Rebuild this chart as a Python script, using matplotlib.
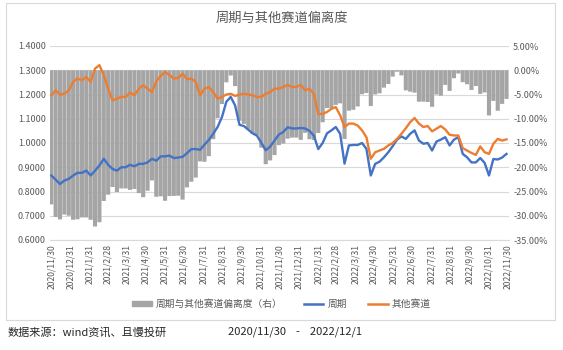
import matplotlib
matplotlib.use('Agg')
import matplotlib.pyplot as plt
from matplotlib.patches import Patch, Rectangle
from matplotlib.lines import Line2D
from matplotlib.ticker import FuncFormatter, MultipleLocator
import pandas as pd

plt.rcParams['font.family'] = ['Noto Sans CJK SC', 'DejaVu Sans']

# weekly readings, starting 2020/11/30
start_date = '2020-11-30'
zhouqi = [0.866, 0.849, 0.831, 0.845, 0.852, 0.866, 0.877, 0.877, 0.886, 0.866,
          0.886, 0.907, 0.935, 0.910, 0.893, 0.886, 0.900, 0.900, 0.910, 0.904,
          0.914, 0.914, 0.920, 0.935, 0.927, 0.945, 0.945, 0.948, 0.938, 0.940,
          0.943, 0.958, 0.975, 0.975, 0.972, 0.993, 1.013, 1.038, 1.066, 1.107,
          1.170, 1.190, 1.155, 1.075, 1.070, 1.055, 1.040, 1.030, 1.000, 0.970,
          0.985, 1.010, 1.035, 1.045, 1.065, 1.060, 1.060, 1.062, 1.060, 1.050,
          1.030, 0.975, 1.000, 1.040, 1.052, 1.066, 1.038, 0.915, 0.990, 0.992,
          0.992, 1.000, 0.976, 0.866, 0.914, 0.923, 0.941, 0.962, 0.987, 1.014,
          1.027, 1.017, 1.038, 1.052, 1.010, 0.997, 1.000, 0.969, 1.006, 1.014,
          1.024, 0.990, 1.014, 1.024, 0.955, 0.941, 0.920, 0.920, 0.938, 0.918,
          0.866, 0.934, 0.932, 0.940, 0.955]
other = [1.197, 1.217, 1.200, 1.203, 1.217, 1.252, 1.266, 1.259, 1.272, 1.252,
         1.307, 1.321, 1.280, 1.224, 1.176, 1.183, 1.190, 1.190, 1.208, 1.197,
         1.224, 1.238, 1.224, 1.210, 1.254, 1.277, 1.293, 1.280, 1.266, 1.268,
         1.286, 1.263, 1.266, 1.252, 1.197, 1.224, 1.231, 1.210, 1.183, 1.190,
         1.200, 1.203, 1.194, 1.200, 1.203, 1.200, 1.197, 1.190, 1.190, 1.203,
         1.210, 1.224, 1.224, 1.231, 1.240, 1.231, 1.231, 1.240, 1.217, 1.224,
         1.203, 1.120, 1.120, 1.128, 1.141, 1.148, 1.114, 1.066, 1.080, 1.080,
         1.072, 1.052, 1.024, 0.935, 0.962, 0.969, 0.976, 0.990, 1.000, 1.017,
         1.038, 1.061, 1.086, 1.103, 1.080, 1.066, 1.070, 1.048, 1.059, 1.070,
         1.056, 1.034, 1.031, 1.031, 0.979, 0.969, 0.959, 0.951, 0.986, 0.962,
         0.955, 0.997, 1.017, 1.010, 1.015]
# 偏离度 = 周期 / 其他赛道 - 1
deviation = [z / o - 1 for z, o in zip(zhouqi, other)]

dates = pd.date_range(start_date, periods=len(zhouqi), freq='7D')
tick_dates = pd.date_range('2020-11-30', '2022-11-30', freq=pd.offsets.MonthEnd())
tick_labels = [f'{d.year}/{d.month}/{d.day}' for d in tick_dates]

grey_txt = '#595959'
fig = plt.figure(figsize=(5.63, 3.5), dpi=100)
ax = fig.add_axes([50 / 563, 1 - 240 / 350, 459 / 563, 194 / 350])
ax_bar = ax.twinx()
ax.set_zorder(ax_bar.get_zorder() + 1)
ax.patch.set_visible(False)

ax_bar.bar(dates, deviation, width=6.6, color='#A5A5A5', lw=0, snap=False, zorder=2)
ax.plot(dates, zhouqi, color='#4472C4', lw=1.7)
ax.plot(dates, other, color='#ED7D31', lw=1.7)

ax.set_ylim(0.6, 1.4)
ax.yaxis.set_major_locator(MultipleLocator(0.1))
ax.yaxis.set_major_formatter(FuncFormatter(lambda v, p: f'{v:.4f}'))
ax_bar.set_ylim(-0.35, 0.05)
ax_bar.yaxis.set_major_locator(MultipleLocator(0.05))
ax_bar.yaxis.set_major_formatter(FuncFormatter(lambda v, p: f'{v * 100:.2f}%'))
ax_bar.yaxis.grid(True, color='#D9D9D9', lw=0.8)
ax_bar.set_axisbelow(True)

ax.set_xlim(pd.Timestamp('2020-11-28'), pd.Timestamp('2022-12-02'))
ax.set_xticks(tick_dates)
ax.set_xticklabels(tick_labels, rotation=90)

for a in (ax, ax_bar):
    for s in a.spines.values():
        s.set_visible(False)
    a.tick_params(length=0, labelsize=6.5, labelcolor=grey_txt, pad=3)
ax_bar.spines['bottom'].set_visible(True)
ax_bar.spines['bottom'].set_color('#D9D9D9')
ax.tick_params(axis='x', labelsize=6.2)

fig.text(0.5, 1 - 18 / 350, '周期与其他赛道偏离度', ha='center', va='center',
         fontsize=9.5, color=grey_txt)

handles = [Patch(color='#A5A5A5'),
           Line2D([], [], color='#4472C4', lw=1.8),
           Line2D([], [], color='#ED7D31', lw=1.8)]
labels = ['周期与其他赛道偏离度（右）', '周期', '其他赛道']
fig.legend(handles, labels, loc='center', bbox_to_anchor=(0.5, 1 - 304 / 350), ncol=3,
           frameon=False, fontsize=7, labelcolor=grey_txt, handlelength=2.0,
           handleheight=0.5, columnspacing=2.2, handletextpad=0.4)

fig.add_artist(Rectangle((6 / 563, 1 - 320 / 350), 549 / 563, 317 / 350,
                         transform=fig.transFigure, fill=False, ec='#D9D9D9', lw=0.8))

fig.text(8 / 563, 1 - 332 / 350, '数据来源：wind资讯、且慢投研', va='center',
         fontsize=8, color='#262626')
fig.text(228 / 563, 1 - 332 / 350, '2020/11/30    -    2022/12/1', va='center',
         fontsize=8, color='#262626')

fig.savefig('out.png', dpi=100)
